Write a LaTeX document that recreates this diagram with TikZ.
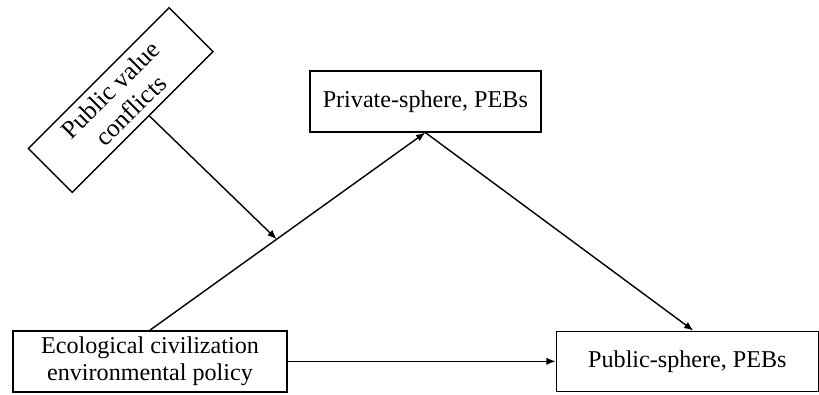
\documentclass[tikz,border=0pt]{standalone}
\usepackage{fontspec}
\setmainfont{Liberation Serif}
\usetikzlibrary{positioning,arrows.meta,calc}

\begin{document}
\begin{tikzpicture}[every node/.style={draw,rectangle,line width=0.6pt,align=center,inner sep=0pt,font=\fontsize{10.3}{11.8}\selectfont}] %cajas rectangulares con texto centrado
    \useasboundingbox (0,0) rectangle (12.285,5.91); %el marco de la figura
    
    %Las cajas (nodos)
    \node[minimum width=4.11cm,minimum height=0.915cm] (eco) at (2.25,0.49) {Ecological civilization\\environmental policy};
    \node[minimum width=3.93cm,minimum height=0.9cm,right=4.02cm of eco] (pub) {Public-sphere, PEBs}; %a la derecha de eco
    \node[minimum width=3.465cm,minimum height=0.915cm] (priv) at (6.38,4.39) {Private-sphere, PEBs};
    \node[rotate=45,minimum width=2.985cm,minimum height=0.93cm,font=\fontsize{10.9}{12.2}\selectfont] (pvc) at (1.81,4.41) {Public value\\conflicts}; %la caja inclinada
    
    %Las flechas
    \draw[line width=0.6pt,-{Latex[length=1.4mm,width=1.1mm]}] (eco.north) -- coordinate[pos=0.46] (mod) (priv.south);
    \draw[line width=0.6pt,-{Latex[length=1.4mm,width=1.1mm]}] (priv.south) -- ([xshift=0.09cm]pub.north);
    \draw[line width=0.6pt,-{Latex[length=1.4mm,width=1.1mm]}] (eco.east) -- (pub.west);
    
    %La moderadora, llega a la mitad de la otra flecha
    \draw[line width=0.6pt,-{Latex[length=1.4mm,width=1.1mm]}] ($(pvc.south)!0.09!(pvc.south east)$) -- (mod);
\end{tikzpicture}
\end{document}
